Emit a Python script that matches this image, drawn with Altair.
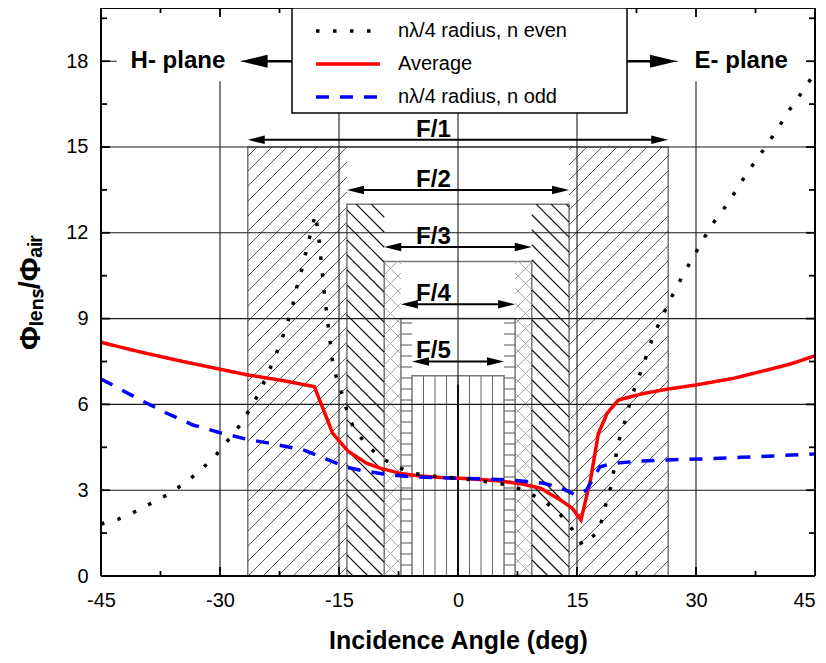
import numpy as np
import pandas as pd
import altair as alt

FONT = "Liberation Sans, Arial, Helvetica, sans-serif"

# ------------------------------------------------------------------ data
series_names = ["nλ/4 radius, n even", "Average", "nλ/4 radius, n odd"]

even_x = [-45, -42.8, -40.7, -38.7, -36.7, -34.6, -32.5, -30.5, -28.8, -27.3, -26.1, -24.9,
          -24.0, -23.1, -22.3, -21.6, -20.9, -20.5, -19.9, -19.4, -18.9, -18.4, -18.0, -17.6,
          -17.2, -16.8, -16.3, -15.8, -15.3, -14.6, -14.0, -13.2, -11.7, -9.8, -7.7, -5.6,
          -3.5, 0, 2.0, 4.5, 6.8, 8.7, 10.8, 12.8, 14.4, 15.7, 17.7, 18.3, 18.8, 19.4, 19.7,
          20.0, 20.5, 21.2, 21.7, 22.4, 23.2, 23.9, 24.6, 25.6, 26.5, 27.6, 28.6, 29.8, 31.0,
          32.3, 33.7, 35.1, 36.4, 37.9, 39.3, 40.6, 41.9, 43.4, 45]
even_y = [1.82, 1.99, 2.25, 2.54, 2.83, 3.22, 3.68, 4.23, 4.81, 5.34, 5.9, 6.48,
          7.06, 7.64, 8.19, 8.78, 9.36, 9.94, 10.47, 11.05, 11.63, 12.16, 12.65, 11.98,
          10.87, 9.77, 8.6, 7.47, 6.91, 6.35, 5.78, 5.2, 4.64, 4.15, 3.82, 3.59,
          3.5, 3.42, 3.36, 3.26, 3.16, 2.93, 2.63, 2.19, 1.63, 1.08, 1.55, 2.13, 2.69, 3.24, 3.8,
          4.38, 4.97, 5.53, 6.1, 6.68, 7.26, 7.82, 8.39, 8.98, 9.53, 10.12, 10.64, 11.22, 11.81,
          12.39, 12.91, 13.5, 14.08, 14.66, 15.22, 15.77, 16.35, 16.93, 17.6]

avg_x = [-45, -40, -35, -30, -26.5, -22, -18.1, -15.8, -13.8, -11.5, -9.8, -7.3, -5, -2.5, 0,
         2.5, 5.3, 8, 10.4, 12.9, 14.4, 15.5, 16.7, 17.7, 18.8, 20.2, 23, 26.3, 30, 34.7, 38.9,
         42, 45]
avg_y = [8.17, 7.83, 7.52, 7.23, 7.03, 6.83, 6.62, 4.99, 4.35, 3.94, 3.77, 3.59, 3.5, 3.45, 3.42,
         3.38, 3.32, 3.22, 3.07, 2.66, 2.37, 1.96, 3.36, 4.99, 5.69, 6.15, 6.36, 6.53, 6.68, 6.91,
         7.2, 7.42, 7.7]

odd_x = [-45, -40, -36.7, -33.4, -30, -26.6, -23.3, -19.5, -16.1, -14, -12, -9.4, -6, -3, 0, 3,
         6.6, 8, 10.8, 13, 14.8, 16.2, 17.9, 19.6, 23, 26.3, 30.5, 35.6, 39.8, 45]
odd_y = [6.89, 6.15, 5.69, 5.28, 5.01, 4.78, 4.62, 4.41, 4.03, 3.8, 3.68, 3.57, 3.47, 3.44, 3.42,
         3.40, 3.36, 3.32, 3.24, 3.08, 2.83, 3.0, 3.82, 3.94, 4.02, 4.06, 4.09, 4.15, 4.2, 4.27]

frame_labels = ["F/1", "F/2", "F/3", "F/4", "F/5"]
frame_half = [26.5, 14.0, 9.3, 7.2, 5.8]
frame_height = [15, 13, 11, 9, 7]
arrow_level = [15.25, 13.5, 11.5, 9.5, 7.5]
label_x = -3.1
center_line_top = 6.7

plane_text = ["H- plane", "E- plane"]
plane_x = [-35.3, 35.7]
plane_level = 18
plane_tip = [-27.4, 27.6]
plane_tail = [-14.5, 20.0]
plane_box_x0 = [-43.0, 27.7]
plane_box_x1 = [-27.3, 45.0]
plane_box_y0 = 17.3

x_ticks = [-45, -30, -15, 0, 15, 30, 45]
x_minor = [-37.5, -22.5, -7.5, 7.5, 22.5, 37.5]
y_ticks = [0, 3, 6, 9, 12, 15, 18]
y_minor = [1.5, 4.5, 7.5, 10.5, 13.5, 16.5, 19.5]
grid_x = [-30, -15, 0, 15, 30]
grid_y = [3, 6, 9, 12, 15, 18]

# ------------------------------------------------------------------ layout
W, H = 714, 568
XMIN, XMAX, YMAX = -45, 45, 19.86
SX = W / (XMAX - XMIN)
SY = H / YMAX
K = SX / SY  # data slope of a 45 degree hatch line

XS = alt.Scale(domain=[XMIN, XMAX], nice=False, zero=False)
YS = alt.Scale(domain=[0, YMAX], nice=False, zero=False)

x_axis = alt.Axis(values=x_ticks, title="Incidence Angle (deg)", grid=False, ticks=False,
                  tickSize=0, domain=False, labelFont=FONT, labelFontSize=20,
                  labelColor="black", labelPadding=14, labelFlush=False, labelOverlap=False,
                  labelExpr="'' + datum.value",
                  labelOffset={"condition": {"test": "datum.value == 45", "value": -11},
                               "value": 0},
                  titleFont=FONT, titleFontSize=25, titleFontWeight="bold",
                  titleColor="black", titlePadding=18)
y_axis = alt.Axis(values=y_ticks, title="Φₗₑₙₛ/Φₐᵢᵣ", grid=False, ticks=False, tickSize=0,
                  domain=False, labelFont=FONT, labelFontSize=20, labelColor="black",
                  labelPadding=13, labelFlush=False, labelOverlap=False,
                  titleFont=FONT, titleFontSize=29, titleFontWeight="bold",
                  titleColor="black", titlePadding=20)


def X(f):
    return alt.X(f, type="quantitative", scale=XS, axis=x_axis)


def Y(f):
    return alt.Y(f, type="quantitative", scale=YS, axis=y_axis)


# ------------------------------------------------------------------ hatching
def sides(i):
    if i == len(frame_half) - 1:
        return [(-frame_half[i], frame_half[i])]
    return [(-frame_half[i], -frame_half[i + 1]), (frame_half[i + 1], frame_half[i])]


def diag(x0, x1, h, step, sign):
    span = h / K
    out = []
    cs = np.arange(np.floor((x0 - span) / step) * step, x1 + span + step, step)
    for c in cs:
        if sign > 0:
            xa, xb = max(x0, c), min(x1, c + span)
            if xb - xa > 1e-6:
                out.append((xa, K * (xa - c), xb, K * (xb - c)))
        else:
            xa, xb = max(x0, c - span), min(x1, c)
            if xb - xa > 1e-6:
                out.append((xa, K * (c - xa), xb, K * (c - xb)))
    return out


def seg_df(segs):
    return pd.DataFrame(segs, columns=["xa", "ya", "xb", "yb"])


dstep = 15 / SX
h1 = sum([diag(a, b, frame_height[0], dstep, +1) for a, b in sides(0)], [])
h2 = sum([diag(a, b, frame_height[1], dstep, -1) for a, b in sides(1)], [])
h3 = sum([diag(a, b, frame_height[2], dstep, +1) + diag(a, b, frame_height[2], dstep, -1)
          for a, b in sides(2)], [])
hstep = 11 / SY
h4 = []
for a, b in sides(3):
    for yv in np.arange(hstep, frame_height[3] - 0.05, hstep):
        h4.append((a, yv, b, yv))
h5 = []
for xv in np.arange(-4.35, 4.36, 1.45):
    h5.append((xv, 0.0, xv, frame_height[4]))


def hatch_layer(segs, color, width):
    return alt.Chart(seg_df(segs)).mark_rule(color=color, strokeWidth=width).encode(
        x=X("xa"), y=Y("ya"), x2="xb", y2="yb")


# ------------------------------------------------------------------ layers
rect_df = pd.DataFrame({"label": frame_labels,
                        "x0": [-v for v in frame_half], "x1": frame_half,
                        "y0": [0] * 5, "y1": frame_height})

rects = alt.Chart(rect_df).mark_rect(fill="white", stroke="#777777", strokeWidth=1.5).encode(
    x=X("x0"), x2="x1", y=Y("y0"), y2="y1")

center = alt.Chart(pd.DataFrame({"x": [0], "y0": [0], "y1": [center_line_top]})).mark_rule(
    color="black", strokeWidth=2).encode(x=X("x"), y=Y("y0"), y2="y1")

grid_v = alt.Chart(pd.DataFrame({"g": grid_x})).mark_rule(color="#1a1a1a", strokeWidth=1.1).encode(
    x=X("g"), y=alt.value(0), y2=alt.value(H))
grid_h = alt.Chart(pd.DataFrame({"g": grid_y})).mark_rule(color="#1a1a1a", strokeWidth=1.1).encode(
    y=Y("g"), x=alt.value(0), x2=alt.value(W))

box_df = pd.DataFrame({"x0": plane_box_x0, "x1": plane_box_x1,
                       "y0": [plane_box_y0] * 2, "y1": [YMAX] * 2})
boxes = alt.Chart(box_df).mark_rect(fill="white", strokeWidth=0).encode(
    x=X("x0"), x2="x1", y=Y("y0"), y2="y1")

# curves with legend
parts = []
for name, xs, ys in [(series_names[1], avg_x, avg_y), (series_names[2], odd_x, odd_y),
                     (series_names[0], even_x, even_y)]:
    parts.append(pd.DataFrame({"angle": xs, "ratio": ys, "series": name}))
curves_df = pd.concat(parts, ignore_index=True)

legend = alt.Legend(title=None, orient="none", legendX=191, legendY=0, direction="vertical",
                    symbolType="M-1.017,0M19.88,0M0.067,0H4.333", symbolSize=900,
                    symbolStrokeWidth=3.5, labelFont=FONT, labelFontSize=20,
                    labelColor="black", labelOffset=66, labelLimit=500, rowPadding=6,
                    padding=6, fillColor="white", strokeColor="black", zindex=1)
curves = alt.Chart(curves_df).mark_line(strokeWidth=3.5).encode(
    x=X("angle"), y=Y("ratio"),
    color=alt.Color("series:N", scale=alt.Scale(domain=series_names,
                                                range=["black", "red", "blue"]), legend=legend),
    strokeDash=alt.StrokeDash("series:N", scale=alt.Scale(
        domain=series_names, range=[[3.5, 13.5], [1, 0], [13, 11]]), legend=legend),
)

# F/n dimension arrows
arr_df = pd.DataFrame({"label": frame_labels,
                       "x0": [-v + 1.0 for v in frame_half],
                       "x1": [v - 1.0 for v in frame_half],
                       "xl": [-v for v in frame_half], "xr": frame_half,
                       "y": arrow_level, "lx": [label_x] * 5})
RIGHT_HEAD = "M0,0L-2,-0.5L-2,0.5Z"
LEFT_HEAD = "M0,0L2,-0.5L2,0.5Z"
shafts = alt.Chart(arr_df).mark_rule(color="black", strokeWidth=2).encode(
    x=X("x0"), x2="x1", y=Y("y"))
heads_l = alt.Chart(arr_df).mark_point(shape=LEFT_HEAD, filled=True, size=289, color="black",
                                       opacity=1, strokeWidth=0).encode(x=X("xl"), y=Y("y"))
heads_r = alt.Chart(arr_df).mark_point(shape=RIGHT_HEAD, filled=True, size=289, color="black",
                                       opacity=1, strokeWidth=0).encode(x=X("xr"), y=Y("y"))
flabels = alt.Chart(arr_df).mark_text(font=FONT, fontSize=24, fontWeight="bold", color="black",
                                      align="center", baseline="alphabetic", dy=-3).encode(
    x=X("lx"), y=Y("y"), text="label")

# H-/E-plane annotations
plane_df = pd.DataFrame({"text": plane_text, "x": plane_x, "y": [plane_level] * 2,
                         "tip": plane_tip, "tail": plane_tail,
                         "shaft_end": [plane_tip[0] + 1.5, plane_tip[1] - 1.5]})
ptext = alt.Chart(plane_df).mark_text(font=FONT, fontSize=24, fontWeight="bold", color="black",
                                      align="center", baseline="middle").encode(
    x=X("x"), y=Y("y"), text="text")
pshaft = alt.Chart(plane_df).mark_rule(color="black", strokeWidth=2.5).encode(
    x=X("shaft_end"), x2="tail", y=Y("y"))
phead_l = alt.Chart(plane_df.iloc[[0]]).mark_point(
    shape="M0,0L2,-0.48L2,0.48Z", filled=True, size=729, color="black", opacity=1,
    strokeWidth=0).encode(x=X("tip"), y=Y("y"))
phead_r = alt.Chart(plane_df.iloc[[1]]).mark_point(
    shape="M0,0L-2,-0.48L-2,0.48Z", filled=True, size=729, color="black", opacity=1,
    strokeWidth=0).encode(x=X("tip"), y=Y("y"))


# inward ticks on all four sides
def xticks(vals, length, top):
    if top:
        yy, yy2 = alt.value(0), alt.value(length)
    else:
        yy, yy2 = alt.value(H), alt.value(H - length)
    return alt.Chart(pd.DataFrame({"v": vals})).mark_rule(color="black", strokeWidth=1.8).encode(
        x=X("v"), y=yy, y2=yy2)


def yticks(vals, length, right):
    if right:
        xx, xx2 = alt.value(W), alt.value(W - length)
    else:
        xx, xx2 = alt.value(0), alt.value(length)
    return alt.Chart(pd.DataFrame({"v": vals})).mark_rule(color="black", strokeWidth=1.8).encode(
        y=Y("v"), x=xx, x2=xx2)


ticks = [xticks(x_ticks, 9, False), xticks(x_minor, 5, False),
         xticks(x_ticks, 9, True), xticks(x_minor, 5, True),
         yticks(y_ticks, 9, False), yticks(y_minor, 6, False),
         yticks(y_ticks, 9, True), yticks(y_minor, 6, True)]

one = pd.DataFrame({"k": [0]})
frame = [
    alt.Chart(one).mark_rule(color="black", strokeWidth=2).encode(
        x=alt.value(0), x2=alt.value(W), y=alt.value(H)),
    alt.Chart(one).mark_rule(color="black", strokeWidth=2).encode(
        x=alt.value(0), x2=alt.value(W), y=alt.value(0)),
    alt.Chart(one).mark_rule(color="black", strokeWidth=2).encode(
        x=alt.value(0), y=alt.value(0), y2=alt.value(H)),
    alt.Chart(one).mark_rule(color="black", strokeWidth=2).encode(
        x=alt.value(W), y=alt.value(0), y2=alt.value(H)),
]

layers = [rects,
          hatch_layer(h1, "#444444", 0.9),
          hatch_layer(h2, "#111111", 1.2),
          hatch_layer(h3, "#aaaaaa", 1.0),
          hatch_layer(h4, "#555555", 1.0),
          hatch_layer(h5, "#666666", 1.0),
          center, grid_v, grid_h, boxes, curves,
          shafts, heads_l, heads_r, flabels,
          pshaft, phead_l, phead_r, ptext] + ticks + frame

chart = alt.layer(*layers).properties(
    width=W, height=H,
    autosize=alt.AutoSizeParams(type="none"),
    padding={"left": 93, "top": 0, "right": 3, "bottom": 79},
).configure_view(stroke=None).configure_legend(strokeWidth=1.5)

chart.save("out.html", embed_options={"renderer": "svg", "actions": False})
